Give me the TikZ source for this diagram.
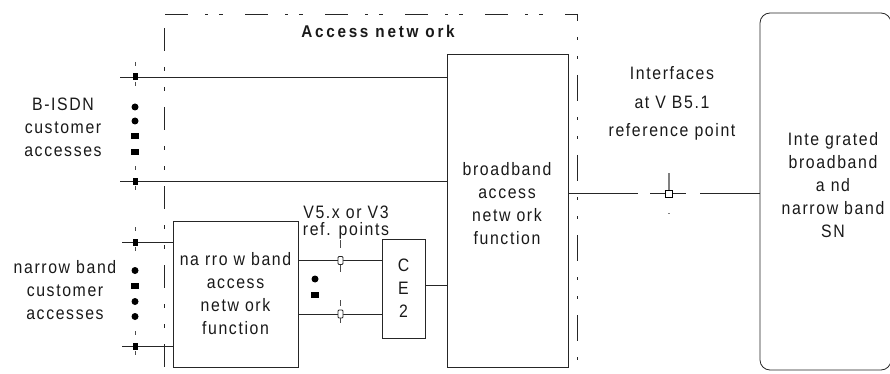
\documentclass[tikz,border=0pt]{standalone}
\usepackage{fontspec}
\setmainfont{Liberation Sans}
\newfontfamily\lblfont{Liberation Sans}[LetterSpace=9,FakeStretch=0.88]
\newfontfamily\ttlfont{Liberation Sans}[LetterSpace=16,FakeStretch=0.9]
\begin{document}
\begin{tikzpicture}[x=1pt,y=-1pt,
  ln/.style={draw=black!85,line width=0.8pt},
  box/.style={draw=black!85,line width=0.8pt,inner sep=0pt},
  lbl/.style={font=\lblfont\fontsize{18}{23}\selectfont,align=center,inner sep=0pt,text=black!90},
  tickln/.style={draw=black!70,line width=0.8pt},
  dotc/.style={circle,fill=black,inner sep=0pt,minimum size=7pt},
  dotsq/.style={rectangle,fill=black,inner sep=0pt,minimum width=7.5pt,minimum height=5.5pt}
]
\useasboundingbox (0,0) rectangle (890,374);

% access network boundary
\draw[ln, dash pattern=on 23pt off 16pt on 4pt off 16pt on 4pt off 16pt] (164,28) -- (164,374);
\draw[ln, dash pattern=on 23pt off 17pt on 3pt off 11pt on 4pt off 22pt] (165,14) -- (577,14);
\draw[ln, dash pattern=on 26pt off 16pt on 3pt off 16pt on 3pt off 16pt, dash phase=19pt] (577,14) -- (577,368);
\node[lbl,font=\ttlfont\bfseries\fontsize{17}{23}\selectfont] (title) at (378,31) {Access netw ork};

% boxes
\node[box,minimum width=121pt,minimum height=313pt] (bb) at (507.5,210.5) {};
\node[lbl] (bbt) at (507,203.5) {broadband\\access\\netw ork\\function};
\node[box,lbl,minimum width=125pt,minimum height=146pt] (nb) at (235.5,294) {na rro w band\\access\\netw ork\\function};
\node[box,lbl,minimum width=43pt,minimum height=99pt] (ce) at (403.5,288.5) {C\\E\\2};
\node[draw=black!85,line width=0.8pt,rounded corners=10pt,minimum width=131pt,minimum height=357pt,inner sep=0pt] (sn) at (825.5,191.5) {};
\node[lbl] (snt) at (833,185.5) {Inte grated\\broadband\\a nd\\narrow band\\SN};

% labels
\node[lbl] (bisdn) at (63,127) {B-ISDN\\customer\\accesses};
\node[lbl] (nbl) at (65,290) {narrow band\\customer\\accesses};
\node[lbl,font=\lblfont\fontsize{18}{17}\selectfont] (v5) at (346,223) {V5.x or V3\\ref. points};
\node[lbl,font=\lblfont\fontsize{18}{28.5}\selectfont] (intf) at (672,103.5) {Interfaces\\at V B5.1\\reference point};

% customer side connectors
\coordinate (b1) at (120,77);
\coordinate (b2) at (120,181);
\coordinate (n1) at (122,242);
\coordinate (n2) at (122,346);
\draw[ln] (b1) -- (b1 -| bb.west);
\draw[ln] (b2) -- (b2 -| bb.west);
\draw[ln] (n1) -- (n1 -| nb.west);
\draw[ln] (n2) -- (n2 -| nb.west);

% customer-side markers
\foreach \yy in {77,181,242,346} {
  \fill[black] (132.5,\yy-3.5) rectangle (137.5,\yy+3.5);
  \draw[tickln] (135,\yy-15) -- (135,\yy-11);
  \draw[tickln] (135,\yy+5) -- (135,\yy+9);
}
% continuation dots
\node[dotc] (d1) at (135,107) {};
\node[dotc] (d2) at (135,121) {};
\node[dotsq] (d3) at (135,136) {};
\node[dotsq] (d4) at (135,152) {};
\node[dotc] (e1) at (135,270.5) {};
\node[dotsq] (e2) at (135,286) {};
\node[dotc] (e3) at (135,301.5) {};
\node[dotc] (e4) at (135,316.5) {};
\node[dotc] (f1) at (315,279) {};
\node[dotsq] (f2) at (315,295) {};

% narrow band to CE2
\coordinate (y1) at (0,260.5);
\coordinate (y2) at (0,314);
\coordinate (y3) at (0,285);
\coordinate (y4) at (0,193);
\draw[ln] (nb.east |- y1) -- (ce.west |- y1);
\draw[ln] (nb.east |- y2) -- (ce.west |- y2);
\draw[ln] (ce.east |- y3) -- (bb.west |- y3);
% V5 reference point markers
\draw[tickln] (340.5,240) -- (340.5,248);
\draw[tickln] (340.5,265) -- (340.5,272);
\draw[tickln] (340.5,300) -- (340.5,306);
\draw[tickln] (340.5,318) -- (340.5,323);
\draw[ln,fill=white,rounded corners=1pt] (338,256.5) rectangle (343,264.5);
\draw[ln,fill=white,rounded corners=1pt] (338,310) rectangle (343,318);

% VB5.1 interface
\draw[ln, dash pattern=on 70pt off 12pt on 36pt off 14pt on 200pt] (bb.east |- y4) -- (sn.west |- y4);
\draw[draw=black!50, line width=2pt] (669,173) -- (669,192);
\draw[line width=0.8pt, fill=white] (665.5,190) rectangle (672.5,197);
\fill[black!50] (668,212.5) rectangle (670,213.8);
\end{tikzpicture}
\end{document}
